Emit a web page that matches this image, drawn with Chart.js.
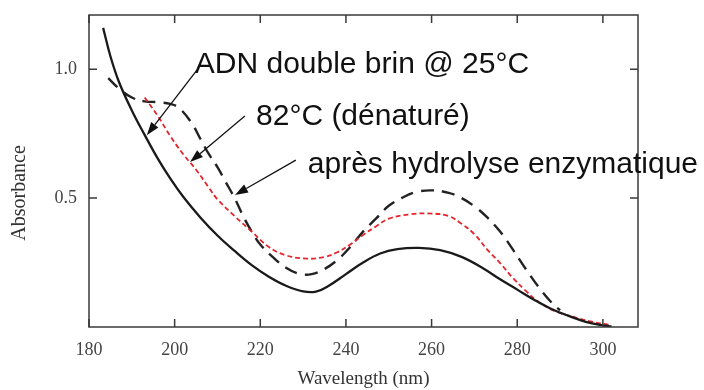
<!DOCTYPE html>
<html>
<head>
<meta charset="utf-8">
<script src="https://cdn.jsdelivr.net/npm/chart.js@4.4.1/dist/chart.umd.min.js"></script>
<style>
  html, body { margin: 0; padding: 0; background: #fff; }
</style>
</head>
<body>
<canvas id="spectre" width="704" height="390"></canvas>
<script>
// spectres UV : longueur d'onde (nm) / absorbance
let natifNm  = [183.3, 185, 187, 190, 193, 196, 199, 202, 206, 210, 214, 218, 222, 226, 230, 233, 236, 240, 244, 248, 252, 257, 262, 267, 272, 276, 280, 284, 288, 292, 296, 300, 302]
let natifAbs = [1.16, 1.05, 0.95, 0.84, 0.745, 0.655, 0.575, 0.505, 0.425, 0.355, 0.295, 0.24, 0.195, 0.16, 0.138, 0.137, 0.16, 0.205, 0.25, 0.285, 0.302, 0.307, 0.298, 0.272, 0.228, 0.185, 0.145, 0.105, 0.07, 0.043, 0.02, 0.006, 0.002]

let denatNm  = [193, 196, 199, 202, 205, 208, 210, 214, 218, 222, 226, 231, 235, 238, 241, 244, 247, 250, 255, 260, 264, 267, 270, 273, 276, 279, 282, 285, 289, 293, 297, 301.7]
let denatAbs = [0.89, 0.82, 0.74, 0.67, 0.61, 0.54, 0.495, 0.43, 0.37, 0.31, 0.278, 0.265, 0.272, 0.29, 0.32, 0.357, 0.39, 0.42, 0.437, 0.44, 0.43, 0.40, 0.36, 0.30, 0.248, 0.19, 0.14, 0.097, 0.06, 0.04, 0.022, 0.008]

let hydroNm  = [184.5, 187, 190, 193, 196, 199, 201, 204, 206, 208, 210, 212, 214, 216, 218, 220, 223, 226, 229, 232, 235, 238, 241, 244, 247, 250, 253, 256, 260, 264, 267, 270, 273, 276, 279, 282, 285, 288, 290]
let hydroAbs = [0.965, 0.925, 0.89, 0.875, 0.872, 0.865, 0.85, 0.79, 0.73, 0.67, 0.62, 0.56, 0.50, 0.43, 0.37, 0.32, 0.27, 0.23, 0.207, 0.205, 0.225, 0.26, 0.31, 0.37, 0.42, 0.47, 0.50, 0.522, 0.53, 0.52, 0.50, 0.468, 0.425, 0.37, 0.30, 0.225, 0.155, 0.095, 0.065]

let xTicks = [180, 200, 220, 240, 260, 280, 300]
let yTicks = [0.5, 1.0]

// legendes flechees, ancrees en unites du graphe (nm, absorbance)
let notes = [
    {texte: 'ADN double brin @ 25°C', tx: 204.7, ty: 0.984, de: [205.2, 0.996], vers: [193.5, 0.744]},
    {texte: '82°C (dénaturé)', tx: 219, ty: 0.783, de: [216.4, 0.818], vers: [203.6, 0.64]},
    {texte: 'après hydrolyse enzymatique', tx: 231.1, ty: 0.597, de: [228.3, 0.647], vers: [214.1, 0.512]}
]

function points(xs, ys) {
    let pts = []
    for (i = 0; i < xs.length; i++) {
        pts.push({x: xs[i], y: ys[i]})
    }
    return pts
}

function fleche(ctx, x1, y1, x2, y2) {
    let ang = Math.atan2(y2 - y1, x2 - x1)
    let L = 13, W = 4.5
    let bx = x2 - L * Math.cos(ang), by = y2 - L * Math.sin(ang)
    ctx.beginPath()
    ctx.moveTo(x1, y1)
    ctx.lineTo(bx, by)
    ctx.stroke()
    ctx.beginPath()
    ctx.moveTo(x2, y2)
    ctx.lineTo(bx + W * Math.sin(ang), by - W * Math.cos(ang))
    ctx.lineTo(bx - W * Math.sin(ang), by + W * Math.cos(ang))
    ctx.closePath()
    ctx.fill()
}

const cadre = {
    id: 'cadre',
    afterDraw(chart) {
        const ctx = chart.ctx, a = chart.chartArea
        const sx = chart.scales.x, sy = chart.scales.y
        ctx.save()
        ctx.strokeStyle = '#3a3a3a'
        ctx.lineWidth = 1.5
        ctx.strokeRect(a.left, a.top, a.right - a.left, a.bottom - a.top)
        ctx.beginPath()
        xTicks.forEach(v => {
            let px = sx.getPixelForValue(v)
            ctx.moveTo(px, a.bottom); ctx.lineTo(px, a.bottom - 8)
            ctx.moveTo(px, a.top); ctx.lineTo(px, a.top + 8)
        })
        yTicks.forEach(v => {
            let py = sy.getPixelForValue(v)
            ctx.moveTo(a.left, py); ctx.lineTo(a.left + 8, py)
            ctx.moveTo(a.right, py); ctx.lineTo(a.right - 8, py)
        })
        ctx.stroke()

        // titre de l'axe y
        ctx.save()
        ctx.translate(20, 193)
        ctx.rotate(-Math.PI / 2)
        ctx.fillStyle = '#333'
        ctx.font = '20px "Liberation Serif"'
        ctx.textAlign = 'center'
        ctx.textBaseline = 'middle'
        ctx.fillText('Absorbance', 0, 0)
        ctx.restore()

        ctx.fillStyle = '#111'
        ctx.strokeStyle = '#111'
        ctx.lineWidth = 1.3
        ctx.font = '30px "Liberation Sans"'
        ctx.textAlign = 'left'
        ctx.textBaseline = 'alphabetic'
        notes.forEach(n => {
            ctx.fillText(n.texte, sx.getPixelForValue(n.tx), sy.getPixelForValue(n.ty))
            fleche(ctx, sx.getPixelForValue(n.de[0]), sy.getPixelForValue(n.de[1]),
                sx.getPixelForValue(n.vers[0]), sy.getPixelForValue(n.vers[1]))
        })
        ctx.restore()
    }
}

var ctx = document.getElementById('spectre').getContext('2d')
new Chart(ctx, {
    type: 'line',
    data: {
        datasets: [{
            label: 'ADN double brin @ 25°C',
            data: points(natifNm, natifAbs),
            borderColor: '#1a1a1a',
            borderWidth: 2.3,
            tension: 0.4
        }, {
            label: '82°C (dénaturé)',
            data: points(denatNm, denatAbs),
            borderColor: '#e3262b',
            borderWidth: 1.8,
            borderDash: [5, 3],
            tension: 0.4
        }, {
            label: 'après hydrolyse enzymatique',
            data: points(hydroNm, hydroAbs),
            borderColor: '#222',
            borderWidth: 2.4,
            borderDash: [13, 8],
            tension: 0.4
        }]
    },
    options: {
        responsive: false,
        animation: false,
        layout: {padding: {top: 15, right: 66, left: 0, bottom: 0}},
        elements: {point: {radius: 0}},
        plugins: {legend: {display: false}, tooltip: {enabled: false}},
        scales: {
            x: {
                type: 'linear',
                min: 180,
                max: 308.2,
                afterFit: (s) => { s.height = 63; s.paddingLeft = 0; s.paddingRight = 0 },
                afterBuildTicks: (s) => { s.ticks = xTicks.map(v => ({value: v})) },
                grid: {display: false, drawTicks: false},
                border: {display: false},
                ticks: {
                    padding: 12,
                    color: '#444',
                    font: {family: 'Liberation Serif', size: 18},
                    callback: (v) => v
                },
                title: {
                    display: true,
                    text: 'Wavelength (nm)',
                    color: '#333',
                    font: {family: 'Liberation Serif', size: 19},
                    padding: {top: -3, bottom: 0}
                }
            },
            y: {
                min: 0,
                max: 1.21,
                afterFit: (s) => { s.width = 89; s.paddingTop = 0; s.paddingBottom = 0 },
                afterBuildTicks: (s) => { s.ticks = yTicks.map(v => ({value: v})) },
                grid: {display: false, drawTicks: false},
                border: {display: false},
                ticks: {
                    padding: 12,
                    color: '#444',
                    font: {family: 'Liberation Serif', size: 18},
                    callback: (v) => v.toFixed(1)
                }
            }
        }
    },
    plugins: [cadre]
})
</script>
</body>
</html>
